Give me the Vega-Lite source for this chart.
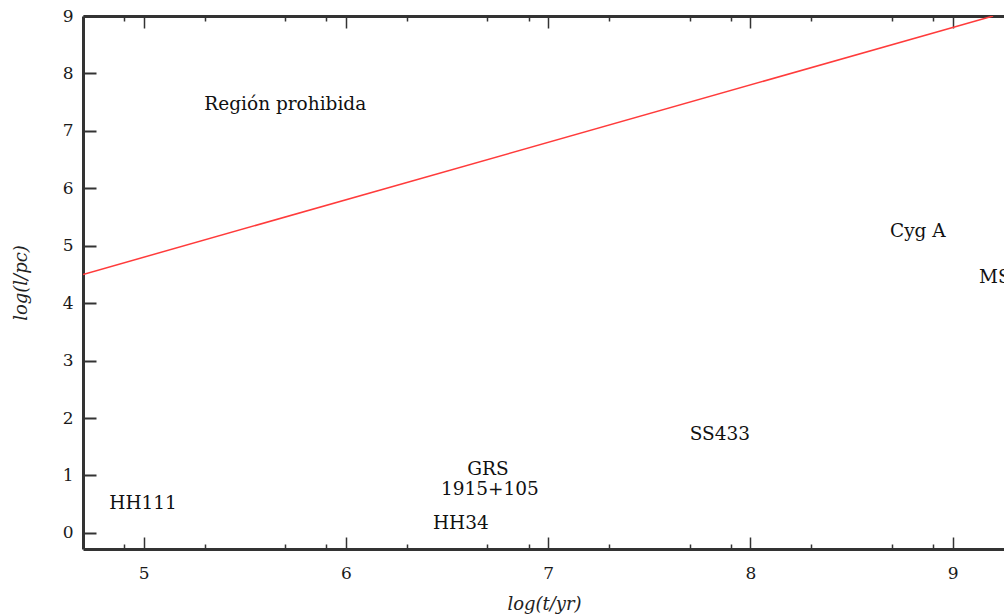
{
  "$schema": "https://vega.github.io/schema/vega-lite/v6.json",
  "autosize": "none",
  "width": 922,
  "height": 533,
  "padding": {"left": 83, "top": 16, "right": 0, "bottom": 67},
  "background": "white",
  "config": {
    "view": {"stroke": null},
    "axis": {
      "grid": false,
      "domainColor": "#333333",
      "domainWidth": 3,
      "tickColor": "#333333",
      "labelFont": "DejaVu Serif",
      "labelFontSize": 17,
      "labelColor": "#1a1a1a",
      "titleFont": "DejaVu Serif",
      "titleFontStyle": "italic",
      "titleFontWeight": "normal",
      "titleFontSize": 18,
      "titleColor": "#222222"
    }
  },
  "datasets": {
    "limit": [
      {"logt": 4.7, "logl": 4.5},
      {"logt": 9.2, "logl": 9.0}
    ],
    "labels": [
      {"name": "Región prohibida", "logt": 5.3, "logl": 7.47},
      {"name": "Cyg A", "logt": 8.69, "logl": 5.26},
      {"name": "MS0735", "logt": 9.13, "logl": 4.46},
      {"name": "HH111", "logt": 4.83, "logl": 0.52},
      {"name": "GRS", "logt": 6.6, "logl": 1.11},
      {"name": "1915+105", "logt": 6.47, "logl": 0.77},
      {"name": "HH34", "logt": 6.43, "logl": 0.17},
      {"name": "SS433", "logt": 7.7, "logl": 1.72}
    ]
  },
  "resolve": {"axis": {"x": "independent", "y": "independent"}},
  "layer": [
    {
      "data": {"name": "limit"},
      "mark": {"type": "line", "color": "#ff3b3b", "strokeWidth": 1.5, "clip": true},
      "encoding": {
        "x": {
          "field": "logt", "type": "quantitative",
          "scale": {"domain": [4.7, 9.2587], "nice": false, "zero": false},
          "axis": {
            "orient": "bottom",
            "values": [5, 6, 7, 8, 9],
            "tickSize": -12,
            "tickWidth": 1.5,
            "labelFontSize": 17,
            "labelPadding": 28,
            "title": "log(t/yr)",
            "titlePadding": 14
          }
        },
        "y": {
          "field": "logl", "type": "quantitative",
          "scale": {"domain": [-0.28, 9], "nice": false, "zero": false},
          "axis": {
            "orient": "left",
            "values": [0, 1, 2, 3, 4, 5, 6, 7, 8, 9],
            "tickSize": -13,
            "tickWidth": 2,
            "labelFontSize": 17,
            "labelPadding": 23,
            "title": "log(l/pc)",
            "titlePadding": 32
          }
        }
      }
    },
    {
      "data": {"name": "labels"},
      "mark": {"type": "text", "align": "left", "baseline": "middle", "font": "DejaVu Serif", "fontSize": 18.5, "color": "#111111", "clip": true},
      "encoding": {
        "x": {"field": "logt", "type": "quantitative", "axis": null},
        "y": {"field": "logl", "type": "quantitative", "axis": null},
        "text": {"field": "name"}
      }
    },
    {
      "data": {"name": "limit"},
      "mark": {"type": "point", "opacity": 0},
      "encoding": {
        "x": {
          "field": "logt", "type": "quantitative",
          "axis": {
            "orient": "bottom",
            "values": [4.903, 5.301, 5.699, 5.903, 6.301, 6.699, 6.903, 7.301, 7.699, 7.903, 8.301, 8.699, 8.903],
            "tickSize": -5,
            "tickWidth": 1.5,
            "labels": false,
            "domain": false,
            "title": null
          }
        },
        "y": {"field": "logl", "type": "quantitative", "axis": null}
      }
    },
    {
      "data": {"name": "limit"},
      "mark": {"type": "point", "opacity": 0},
      "encoding": {
        "x": {
          "field": "logt", "type": "quantitative",
          "axis": {
            "orient": "top",
            "values": [5, 6, 7, 8, 9],
            "tickSize": -12,
            "tickWidth": 1.5,
            "labels": false,
            "domain": true,
            "title": null
          }
        },
        "y": {"field": "logl", "type": "quantitative", "axis": null}
      }
    },
    {
      "data": {"name": "limit"},
      "mark": {"type": "point", "opacity": 0},
      "encoding": {
        "x": {
          "field": "logt", "type": "quantitative",
          "axis": {
            "orient": "top",
            "values": [4.903, 5.301, 5.699, 5.903, 6.301, 6.699, 6.903, 7.301, 7.699, 7.903, 8.301, 8.699, 8.903],
            "tickSize": -5,
            "tickWidth": 1.5,
            "labels": false,
            "domain": false,
            "title": null
          }
        },
        "y": {"field": "logl", "type": "quantitative", "axis": null}
      }
    }
  ]
}
